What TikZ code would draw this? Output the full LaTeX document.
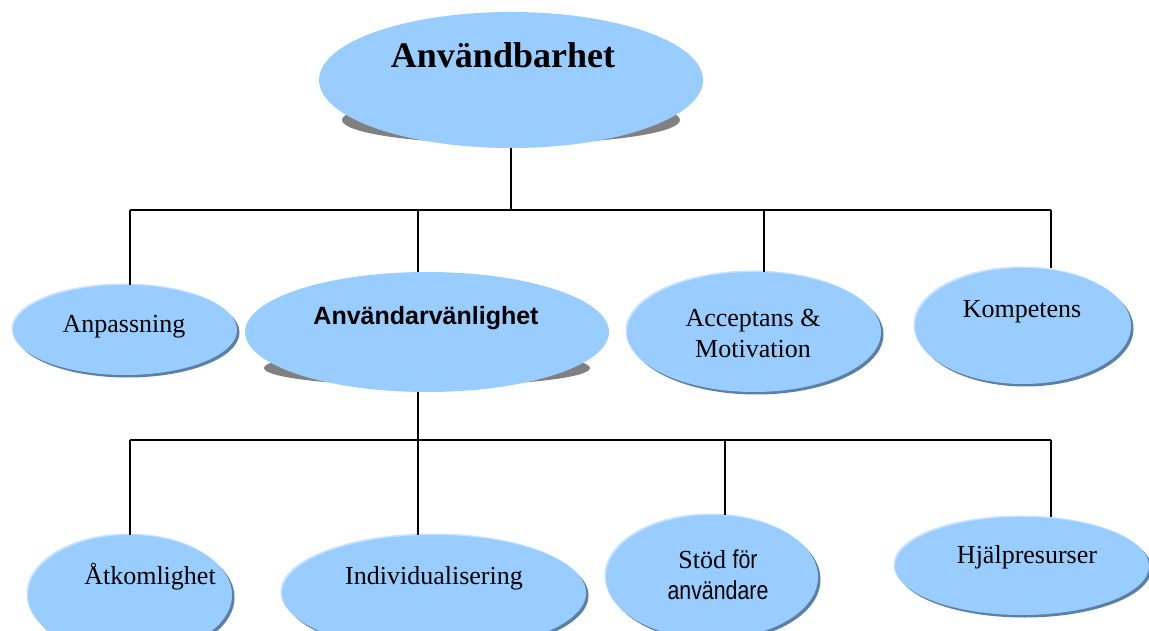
\documentclass[tikz,border=0pt]{standalone}
\usepackage{fontspec}
\setmainfont{Liberation Serif}
\newfontfamily\armsans{Liberation Sans}
\newfontfamily\armnarrow[FakeStretch=0.82]{Liberation Sans}
\usetikzlibrary{shapes.geometric,calc}
\definecolor{bubfill}{HTML}{99CCFF}
\definecolor{bubedge}{HTML}{5B7FA6}
\definecolor{bubhi}{HTML}{C6E2FF}
\definecolor{bubshade}{HTML}{808080}

\begin{document}
\begin{tikzpicture}[x=1pt,y=-1pt,
  bub/.style={ellipse,inner sep=0pt,fill=bubfill,
    preaction={fill=bubedge,transform canvas={xshift=2.5pt,yshift=-2.5pt}},
    preaction={fill=bubhi,transform canvas={xshift=-1.5pt,yshift=1.5pt}}},
  big/.style={ellipse,inner sep=0pt,fill=bubfill},
  shade/.style={ellipse,inner sep=0pt,fill=bubshade},
  lab/.style={font=\fontsize{26}{31}\selectfont,align=center,anchor=base,inner sep=0pt},
  link/.style={draw=black,line width=1.5pt}
]
\useasboundingbox[fill=white] (0,0) rectangle (1149,631);

% top level
\node[shade,minimum width=338pt,minimum height=48pt] (usesh) at (511,120) {};
\node[big,minimum width=384pt,minimum height=136pt] (use) at (511,80) {};
\node[lab,font=\fontsize{36}{40}\selectfont\bfseries] (usetxt) at (503,68) {Användbarhet};

% second level
\node[bub,minimum width=224pt,minimum height=90pt] (anp) at (125,330) {};
\node[shade,minimum width=326pt,minimum height=36pt] (anvsh) at (427,368) {};
\node[big,minimum width=364pt,minimum height=120pt] (anv) at (427,332) {};
\node[bub,minimum width=254pt,minimum height=120pt] (acc) at (754,332) {};
\node[bub,minimum width=216pt,minimum height=116pt] (komp) at (1023,326) {};

\node[lab] (anptxt) at (124,332) {Anpassning};
\node[lab,font=\fontsize{25}{30}\selectfont\armsans\bfseries] (anvtxt) at (426,324) {Användarvänlighet};
\node[lab] (acctxt) at (753,357) {Acceptans \&\\Motivation};
\node[lab] (komptxt) at (1022,317) {Kompetens};

% third level
\node[bub,minimum width=204pt,minimum height=120pt] (atk) at (130,595) {};
\node[bub,minimum width=304pt,minimum height=116pt] (ind) at (434,593) {};
\node[bub,minimum width=212pt,minimum height=124pt] (stod) at (712,577) {};
\node[bub,minimum width=254pt,minimum height=98pt] (hjalp) at (1022,566) {};

\node[lab] (atktxt) at (150,584) {Åtkomlighet};
\node[lab] (indtxt) at (434,584) {Individualisering};
\node[lab] (stodtxt) at (718,599) {Stöd {\armnarrow för}\\{\armnarrow användare}};
\node[lab] (hjalptxt) at (1027,563) {Hjälpresurser};

% connectors
\coordinate (ta) at (130,210);
\coordinate (tb) at (418,210);
\coordinate (tc) at (764,210);
\coordinate (td) at (1051,210);
\coordinate (ua) at (130,440);
\coordinate (ub) at (418,440);
\coordinate (uc) at (725,440);
\coordinate (ud) at (1051,440);

\draw[link] (use.south) -- (use.south |- ta);
\draw[link] (ta) -- (td);
\foreach \t/\n in {ta/anp,tb/anv,tc/acc,td/komp}
  \draw[link] (\t) -- (\t |- \n.north);

\draw[link] (ub |- anv.south) -- (ub);
\draw[link] (ua) -- (ud);
\foreach \t/\n in {ua/atk,ub/ind,uc/stod,ud/hjalp}
  \draw[link] (\t) -- (\t |- \n.north);
\end{tikzpicture}
\end{document}
